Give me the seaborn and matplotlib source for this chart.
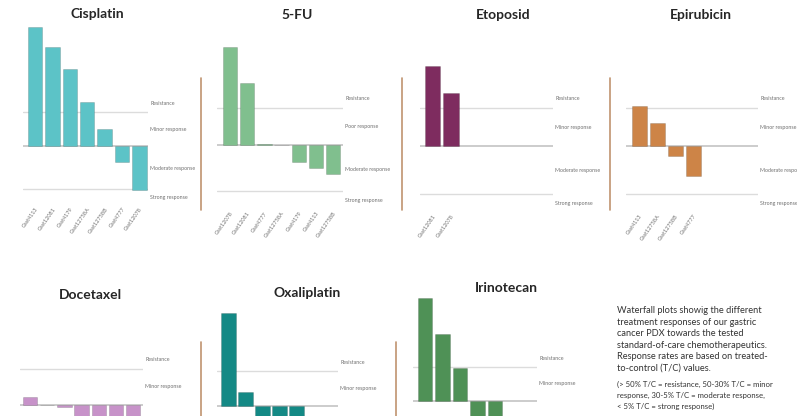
import numpy as np
import pandas as pd
import matplotlib.pyplot as plt
import seaborn as sns
from matplotlib.lines import Line2D

# T/C values (%), bars drawn from the 30% line
cis_models = ["Gast4113", "Gast12081", "Gast4179", "Gast12758A", "Gast12758B", "Gast4777", "Gast12078"]
cis_tc = [100, 88, 75, 56, 40, 20.5, 4]

fu_models = ["Gast12078", "Gast12081", "Gast4777", "Gast12758A", "Gast4179", "Gast4113", "Gast12758B"]
fu_tc = [83, 63.5, 30.8, 30, 21, 17.5, 14.3]

eto_models = ["Gast12081", "Gast12078"]
eto_tc = [72, 58]

epi_models = ["Gast4113", "Gast12758A", "Gast12758B", "Gast4777"]
epi_tc = [51, 42, 25, 14]

doc_models = ["Gast4113", "Gast12081", "Gast4179", "Gast12758A", "Gast12758B", "Gast4777", "Gast12078"]
doc_tc = [34.4, 30, 28.9, 20, 18, 16, 14]

oxa_models = ["Gast12078", "Gast4113", "Gast12081", "Gast4777", "Gast12758B"]
oxa_tc = [83, 38, 22, 20, 18]

iri_models = ["Gast12081", "Gast12078", "Gast4113", "Gast4777", "Gast12758A"]
iri_tc = [90.6, 69.4, 49.4, 20, 18]

BASE = 30  # moderate/minor border, bars start here
RESIST = 50
STRONG = 5

caption = ("Waterfall plots showig the different\n"
           "treatment responses of our gastric\n"
           "cancer PDX towards the tested\n"
           "standard-of-care chemotherapeutics.\n"
           "Response rates are based on treated-\n"
           "to-control (T/C) values.")
caption_small = ("(> 50% T/C = resistance, 50-30% T/C = minor\n"
                 "response, 30-5% T/C = moderate response,\n"
                 "< 5% T/C = strong response)")

W, H = 797, 416

sns.set_theme(style="white")
plt.rcParams['font.family'] = ['Lato', 'DejaVu Sans']

fig = plt.figure(figsize=(W / 100, H / 100), dpi=100)

# title, models, values, colour, minor label, layout in px: x0, x1, first centre, pitch, baseline, px per %, title x, title y
panels = [
    ("Cisplatin", cis_models, cis_tc, "#5cc3c7", "Minor response", 23, 148, 35, 17.4, 146, 1.7, 97, 14),
    ("5-FU", fu_models, fu_tc, "#80bf8e", "Poor response", 217, 343, 230, 17.2, 145, 1.85, 297, 15),
    ("Etoposid", eto_models, eto_tc, "#7e2c5f", "Minor response", 420, 553, 432.5, 18.5, 146, 1.9, 503, 15),
    ("Epirubicin", epi_models, epi_tc, "#cd8447", "Minor response", 626, 758, 639.5, 18, 146, 1.9, 701, 15),
    ("Docetaxel", doc_models, doc_tc, "#c792c9", "Minor response", 20, 143, 30, 17.2, 405, 1.8, 90, 295),
    ("Oxaliplatin", oxa_models, oxa_tc, "#148985", "Minor response", 217, 338, 228.5, 17, 406, 1.75, 307, 293),
    ("Irinotecan", iri_models, iri_tc, "#4f9156", "Minor response", 413, 537, 425, 17.5, 401, 1.7, 506, 288),
]

ylo, yhi = -34, 75
for title, models, tc, color, minor, x0, x1, c0, pitch, base, scale, tx, ty in panels:
    top = base - yhi * scale
    bot = base - ylo * scale
    ax = fig.add_axes([x0 / W, 1 - bot / H, (x1 - x0) / W, (bot - top) / H])
    ax.patch.set_alpha(0)

    df = pd.DataFrame({"model": models, "delta": np.array(tc) - BASE})
    sns.barplot(data=df, x="model", y="delta", color=color, saturation=1,
                width=0.83, edgecolor="#00000030", linewidth=0.5, ax=ax)

    ax.axhline(RESIST - BASE, color="#dcdcdc", lw=1.0, zorder=0)
    ax.axhline(STRONG - BASE, color="#dcdcdc", lw=1.0, zorder=0)
    ax.axhline(0, color="#c4c4c4", lw=1.2, zorder=0)

    ax.set_xlim((x0 - c0) / pitch, (x1 - c0) / pitch)
    ax.set_ylim(ylo, yhi)
    ax.set_yticks([])
    ax.set_xlabel("")
    ax.set_ylabel("")
    sns.despine(ax=ax, left=True, bottom=True)
    ax.tick_params(axis="x", length=0, pad=2)
    ax.set_xticks(range(len(models)))
    if base < 300:
        ax.set_xticklabels(models, rotation=55, ha="right", rotation_mode="anchor",
                           fontsize=4, color="#707070")
    else:
        # lower row is cut off by the page edge, model names fall outside
        ax.set_xticklabels([])

    for txt, yv in [("Resistance", 25), (minor, 10), ("Moderate response", -13), ("Strong response", -30)]:
        if base - yv * scale > H - 4:
            continue  # below the page edge in the lower row
        ax.annotate(txt, xy=(1, yv), xycoords=ax.get_yaxis_transform(), xytext=(1.5, 0),
                    textcoords="offset points", fontsize=3.8, color="#707070",
                    va="center", ha="left", annotation_clip=False)

    fig.text(tx / W, 1 - ty / H, title, ha="center", va="center",
             fontsize=10, fontweight="bold", color="#262626")

# brown separators between panels
for x, y0, y1 in [(201, 78, 210), (402, 78, 210), (610, 78, 210), (201, 342, 420), (396, 342, 420)]:
    fig.add_artist(Line2D([x / W, x / W], [1 - y0 / H, 1 - y1 / H], transform=fig.transFigure,
                          color="#c09470", lw=1.2))

fig.text(617 / W, 1 - 306 / H, caption, ha="left", va="top", fontsize=6.7,
         linespacing=1.36, color="#333333")
fig.text(617 / W, 1 - 381 / H, caption_small, ha="left", va="top", fontsize=5.6,
         linespacing=1.62, color="#333333")

fig.savefig("out.png", dpi=100)
